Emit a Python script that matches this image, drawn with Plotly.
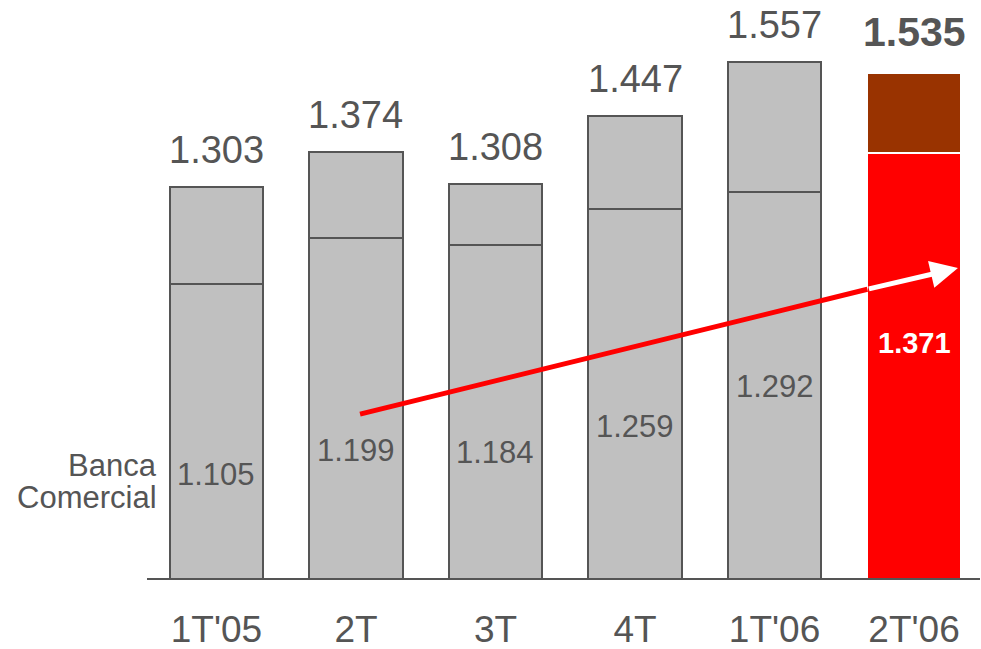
import plotly.graph_objects as go

categories = ["1T'05", "2T", "3T", "4T", "1T'06", "2T'06"]
banca_comercial = [1105, 1199, 1184, 1259, 1292, 1371]
totals = [1303, 1374, 1308, 1447, 1557, 1535]
total_labels = ["1.303", "1.374", "1.308", "1.447", "1.557", "1.535"]
banca_labels = ["1.105", "1.199", "1.184", "1.259", "1.292", "1.371"]
# vertical positions (data units) of the inner labels
inner_label_y = [719, 768, 764, 817, 898, 986]

rest = [t - b for t, b in zip(totals, banca_comercial)]
x = list(range(len(categories)))

GREY = "#C0C0C0"
EDGE = "#555555"
TXT = "#555555"
FONT = "Liberation Sans, Arial, sans-serif"

bottom_colors = [GREY] * 5 + ["#FF0000"]
top_colors = [GREY] * 5 + ["#993300"]
edge_colors = [EDGE] * 5 + ["#FFFFFF"]

fig = go.Figure()
fig.add_trace(go.Bar(x=x, y=banca_comercial, width=0.667,
                     marker=dict(color=bottom_colors, line=dict(color=edge_colors, width=2)),
                     hoverinfo="skip"))
fig.add_trace(go.Bar(x=x, y=rest, width=0.667,
                     marker=dict(color=top_colors, line=dict(color=edge_colors, width=2)),
                     hoverinfo="skip"))

ann = []
for i in x:
    last = i == len(x) - 1
    ann.append(dict(x=i, y=totals[i], xref="x", yref="y",
                    text=("<b>" + total_labels[i] + "</b>") if last else total_labels[i],
                    showarrow=False, yanchor="middle", yshift=41 if last else 37,
                    font=dict(family=FONT, size=41 if last else 38, color=TXT)))
    ann.append(dict(x=i, y=inner_label_y[i], xref="x", yref="y",
                    text=("<b>" + banca_labels[i] + "</b>") if last else banca_labels[i],
                    showarrow=False,
                    font=dict(family=FONT, size=29 if last else 31, color="#FFFFFF" if last else TXT)))

W, H = 981, 649
left, right, top, bottom = 147, 980, 0, 578

for txt, py in [("Banca", 465), ("Comercial", 497)]:
    ann.append(dict(x=(159 - left) / (right - left), y=1 - (py - top) / (bottom - top),
                    xref="x domain", yref="y domain", text=txt,
                    showarrow=False, xanchor="right", yanchor="middle",
                    font=dict(family=FONT, size=31, color=TXT)))

# arrow: red part then white part with head
x0, y0 = 1.029, 841
xm, ym = 4.666, 1095
x1, y1 = 5.315, 1138
shapes = [dict(type="line", xref="x", yref="y", x0=x0, y0=y0, x1=xm, y1=ym,
               line=dict(color="#FF0000", width=5))]
ann.append(dict(x=x1, y=y1, ax=xm, ay=ym, xref="x", yref="y", axref="x", ayref="y",
                text="", showarrow=True, arrowhead=2, arrowsize=1.1, arrowwidth=5,
                arrowcolor="#FFFFFF", standoff=0, startstandoff=0))

fig.update_layout(
    template=None,
    width=W, height=H,
    margin=dict(l=left, r=W - right, t=top, b=H - bottom, pad=0, autoexpand=False),
    barmode="stack", showlegend=False,
    plot_bgcolor="white", paper_bgcolor="white",
    bargap=0,
    annotations=ann, shapes=shapes,
    xaxis=dict(tickmode="array", tickvals=x, ticktext=categories,
               range=[-0.498, 5.473], showgrid=False, zeroline=False, automargin=False,
               showline=True, linecolor=EDGE, linewidth=2, ticks="",
               ticklabelstandoff=18,
               tickfont=dict(family=FONT, size=37, color=TXT)),
    yaxis=dict(range=[508, 1683], visible=False, showgrid=False, zeroline=False,
               automargin=False),
)
fig.write_html("out.html")
